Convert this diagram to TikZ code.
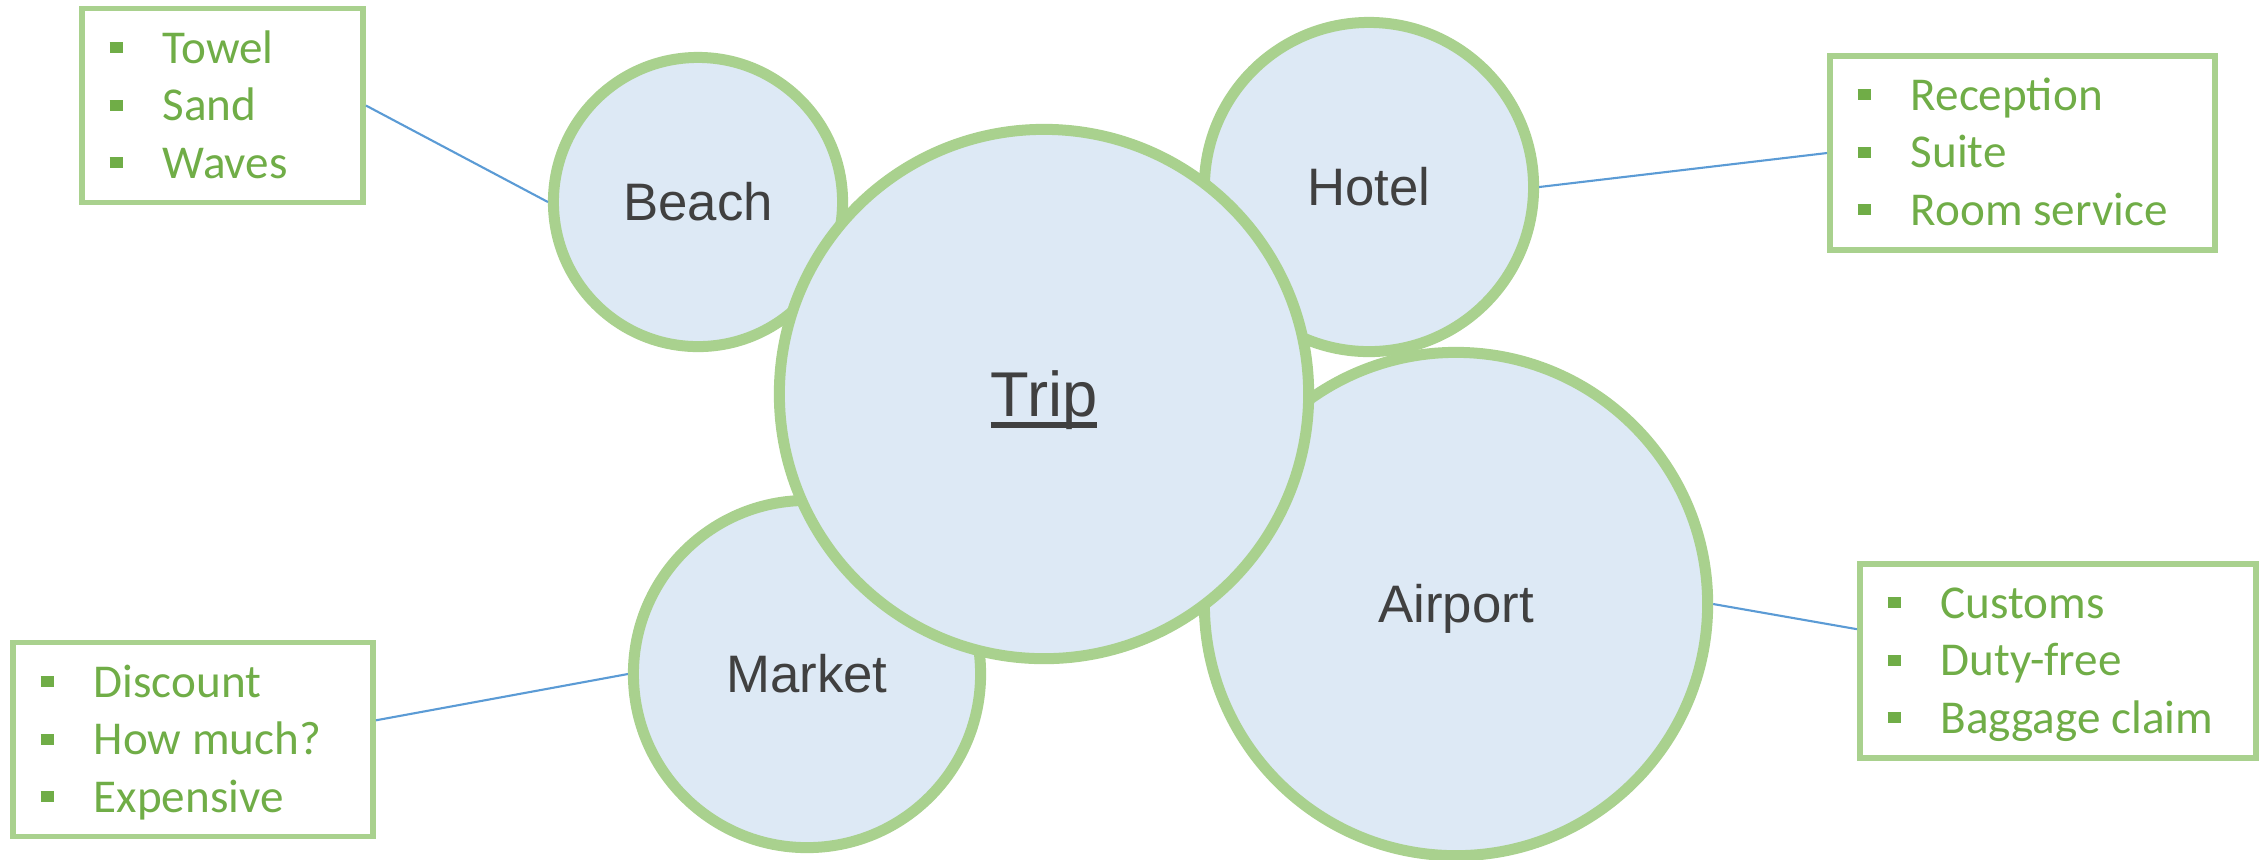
\documentclass[tikz,border=0pt]{standalone}
\usepackage{fontspec}
\setmainfont{Liberation Sans}
\newfontfamily\carlito{Carlito}
\usepackage{xcolor}

\definecolor{bubblefill}{HTML}{DDE9F5}
\definecolor{bubbleline}{HTML}{A9D18E}
\definecolor{itemgreen}{HTML}{70AD47}
\definecolor{labelgray}{HTML}{404040}
\definecolor{linkblue}{HTML}{5B9BD5}
\newcommand{\sq}{\rule[0.1cm]{0.13cm}{0.11cm}\hspace{0.4cm}}
\newcommand{\tripline}[1]{\setbox0\hbox{#1}\rlap{\rule[-0.175em]{\wd0}{0.095em}}\box0}

\begin{document}
\begin{tikzpicture}
  [x=0.01cm,y=-0.01cm,
   bubble/.style={circle,draw=bubbleline,fill=bubblefill,line width=0.11cm,inner sep=0pt,
     text=labelgray,font=\fontsize{15}{18}\selectfont,text height=10.7pt,text depth=0pt},
   listbox/.style={rectangle,draw=bubbleline,line width=0.057cm,minimum height=1.94cm,inner sep=0pt},
   item/.style={anchor=base west,inner sep=0pt,text=itemgreen,font=\carlito\fontsize{13.4}{16}\selectfont},
   link/.style={draw=linkblue,line width=0.6pt}]
  \useasboundingbox (0,0) rectangle (2267,859);

  % word lists
  \node[listbox,minimum width=2.81cm] (beachbox) at (222.5,105.5) {};
  \node[listbox,minimum width=3.85cm] (hotelbox) at (2022.5,153) {};
  \node[listbox,minimum width=3.60cm] (marketbox) at (193,739.5) {};
  \node[listbox,minimum width=3.96cm] (airportbox) at (2058,661) {};

  \foreach \t [count=\i] in {Towel,Sand,Waves}
    \node[item] (beach\i) at (109,5.5+57.5*\i) {\sq\t};
  \foreach \t [count=\i] in {Reception,Suite,Room service}
    \node[item] (hotel\i) at (1857,52.5+57.5*\i) {\sq\t};
  \foreach \t [count=\i] in {Discount,How much?,Expensive}
    \node[item] (market\i) at (40,639.5+57.5*\i) {\sq\t};
  \foreach \t [count=\i] in {Customs,Duty-free,Baggage claim}
    \node[item] (airport\i) at (1887,560.5+57.5*\i) {\sq\t};

  % bubbles, the big one last
  \node[bubble,minimum size=2.89cm] (beach) at (698,202) {Beach};
  \node[bubble,minimum size=3.29cm] (hotel) at (1369,187) {Hotel};
  \node[bubble,minimum size=5.03cm] (airport) at (1456,604) {Airport};
  \node[bubble,minimum size=3.47cm] (market) at (807,674) {Market};
  \node[bubble,minimum size=5.29cm,font=\fontsize{18}{22}\selectfont,text height=12.9pt] (trip) at (1044,394) {\tripline{Trip}};

  \foreach \from/\to in {beach.west/beachbox.east,hotel.east/hotelbox.west,
      market.west/marketbox.6,airport.east/airportbox.171}
    \draw[link] (\from) -- (\to);

\end{tikzpicture}
\end{document}
